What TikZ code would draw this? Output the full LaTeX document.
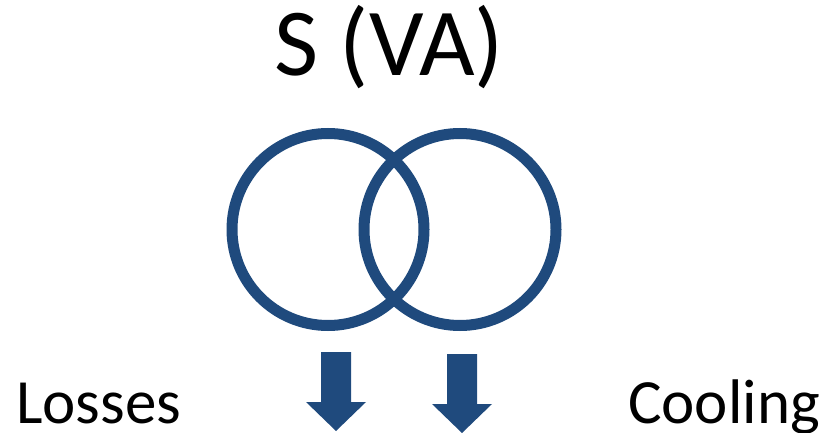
\documentclass[tikz,border=0pt]{standalone}
\usepackage{fontspec}
\setmainfont{Carlito}
\definecolor{ringblue}{RGB}{31,74,125}
\begin{document}
\begin{tikzpicture}[x=1pt,y=-1pt,
  ring/.style={draw=ringblue,line width=11pt},
  downarrow/.style={fill=ringblue,draw=none},
  label/.style={font=\fontsize{63}{70}\selectfont,inner sep=0pt,anchor=base west}]
  \useasboundingbox (0,0) rectangle (824,433);
  % apparent power heading
  \node[font=\fontsize{96}{110}\selectfont,inner sep=0pt,anchor=base] (title) at (389,76) {S (VA)};
  % two overlapping windings
  \node[ring,circle,minimum size=192pt,inner sep=0pt] (w1) at (328,229.5) {};
  \node[ring,circle,minimum size=192pt,inner sep=0pt] (w2) at (460,229.5) {};
  % block arrows below the windings
  \coordinate (a1) at (336,352);
  \coordinate (a2) at (462,354);
  \fill[downarrow] (a1) ++(-15,0) -- ++(30,0) -- ++(0,50) -- ++(15,0) -- ++(-30,29) -- ++(-30,-29) -- ++(15,0) -- cycle;
  \fill[downarrow] (a2) ++(-15,0) -- ++(30,0) -- ++(0,50) -- ++(15,0) -- ++(-30,29) -- ++(-30,-29) -- ++(15,0) -- cycle;
  % side labels
  \node[label] (losses) at (16,423) {Losses};
  \node[label] (cooling) at (628,423) {Cooling};
\end{tikzpicture}
\end{document}
